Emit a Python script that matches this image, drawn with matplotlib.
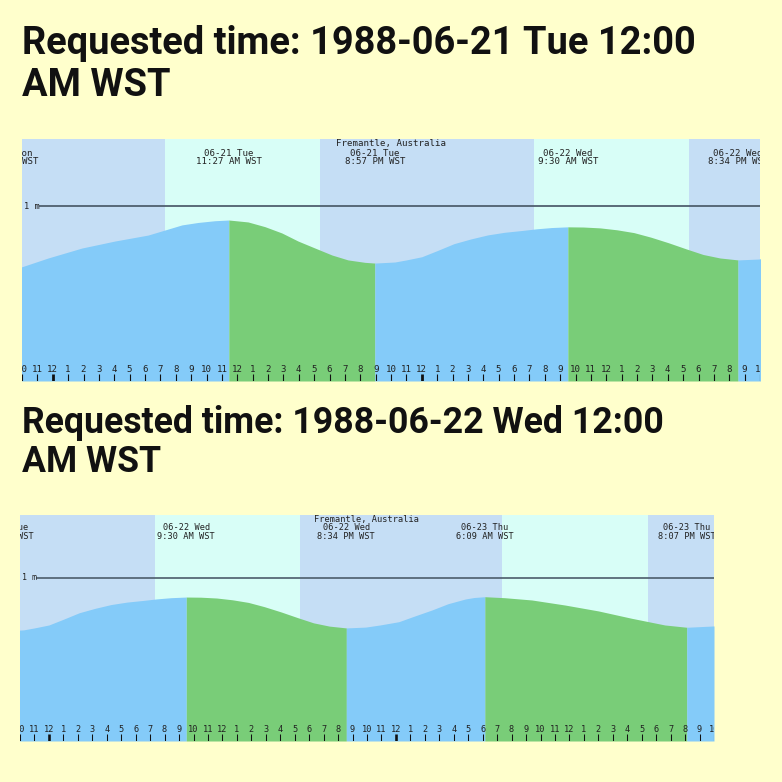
import numpy as np
import matplotlib.pyplot as plt

# hours counted from 1988-06-21 00:00 WST, heights in metres
tide_hours = [-2.92, -2.0, -0.3, 1.9, 4.05, 6.2, 7.3, 8.4, 9.45, 10.55, 11.45, 12.7, 13.8, 14.9,
              15.95, 17.05, 18.16, 19.2, 20.31, 20.95, 22.25, 23.0, 24.0, 25.0, 26.1, 27.2, 28.3,
              29.4, 30.5, 31.5, 32.45, 33.5, 34.5, 35.6, 36.7, 37.8, 38.9, 40.05, 41.2, 42.3,
              43.4, 44.57, 45.9, 46.9, 48.2, 49.3, 50.5, 51.6, 52.8, 53.4, 54.15, 55.5, 57.4,
              59.7, 62.0, 64.3, 66.6, 68.12, 70.0]
tide_m = [0.645, 0.653, 0.703, 0.760, 0.800, 0.834, 0.863, 0.892, 0.906, 0.916, 0.920, 0.909,
          0.882, 0.846, 0.800, 0.760, 0.720, 0.692, 0.678, 0.674, 0.680, 0.692, 0.710, 0.745,
          0.785, 0.812, 0.835, 0.850, 0.860, 0.870, 0.877, 0.881, 0.880, 0.875, 0.864, 0.848,
          0.822, 0.790, 0.755, 0.723, 0.703, 0.692, 0.697, 0.710, 0.730, 0.765, 0.802, 0.840,
          0.869, 0.878, 0.883, 0.877, 0.863, 0.832, 0.796, 0.751, 0.710, 0.696, 0.704]

event_hours = [-2.92, 11.45, 20.95, 33.5, 44.57, 54.15, 68.12]
event_kind = ["L", "H", "L", "H", "L", "H", "L"]
event_labels = ["06-20 Mon\n9:05 PM WST", "06-21 Tue\n11:27 AM WST", "06-21 Tue\n8:57 PM WST",
                "06-22 Wed\n9:30 AM WST", "06-22 Wed\n8:34 PM WST", "06-23 Thu\n6:09 AM WST",
                "06-23 Thu\n8:07 PM WST"]

sunrise = [7.33, 31.33, 55.33]
sunset = [17.4, 41.4, 65.42]

station = "Fremantle, Australia"
titles = ["Requested time: 1988-06-21 Tue 12:00\nAM WST", "Requested time: 1988-06-22 Wed 12:00\nAM WST"]
windows = [(-2, 46), (22, 70)]

PAGE = "#FFFFCC"
NIGHT = "#C5DEF5"
DAY = "#D8FEF7"
RISE = "#84CBF9"
FALL = "#79CD78"
MONO = "DejaVu Sans Mono"

fig = plt.figure(figsize=(7.82, 7.82), dpi=100)
fig.patch.set_facecolor(PAGE)
W = 782.0


def panel(rect, window, k):
    # rect in pixels (left, top, right, bottom), k = scale of this panel
    l, t, r, b = rect
    ax = fig.add_axes([l / W, 1 - b / W, (r - l) / W, (b - t) / W])
    ax.set_xlim(*window)
    ax.set_ylim(0, 1.383)
    ax.axis("off")
    ax.add_patch(plt.Rectangle((0, 0), 1, 1, transform=ax.transAxes, color=NIGHT, zorder=0))
    for sr, ss in zip(sunrise, sunset):
        ax.axvspan(sr, ss, color=DAY, lw=0, zorder=1)

    x = np.array(tide_hours)
    y = np.array(tide_m)
    for i, e in enumerate(event_hours):
        end = event_hours[i + 1] if i + 1 < len(event_hours) else x[-1]
        m = (x >= e) & (x <= end)
        c = FALL if event_kind[i] == "H" else RISE
        ax.fill_between(x[m], 0, y[m], color=c, lw=0, zorder=2)

    # 1 m level line
    trans = ax.get_yaxis_transform()
    ax.plot([18 / 738, 1], [1, 1], transform=trans, color="#4f5f6e", lw=1.3 * k, zorder=3)
    ax.text(2 / 738, 1, "1 m", transform=trans, fontsize=6.3 * k, family=MONO,
            va="center", ha="left", color="#222222", zorder=4)

    # station name and tide events along the top
    ax.text(0.5, 1 - 4.5 / 242, station, transform=ax.transAxes, fontsize=6.6 * k,
            family=MONO, ha="center", va="center", color="#222222", zorder=4)
    xt = ax.get_xaxis_transform()
    for e, lab in zip(event_hours, event_labels):
        ax.text(e, 1 - 18.5 / 242, lab, transform=xt, fontsize=6.6 * k, family=MONO,
                ha="center", va="center", linespacing=0.95, color="#222222",
                clip_on=True, zorder=4)

    # hour ticks
    for h in range(window[0], window[1] + 1):
        hh = h % 24
        lab = str(12 if hh % 12 == 0 else hh % 12)
        lw = 2.0 * k if hh == 0 else 0.8 * k
        ax.plot([h, h], [0, 7 / 242], transform=xt, color="#111111", lw=lw, zorder=4,
                solid_capstyle="butt", clip_on=True)
        ax.text(h, 12 / 242, lab, transform=xt, fontsize=6.6 * k, family=MONO,
                ha="center", va="center", color="#222222", clip_on=True, zorder=4)
    return ax


panel((22, 139, 760, 381), windows[0], 1.0)
panel((20, 515, 714, 741), windows[1], 0.94)

for txt, (y1, fs) in zip(titles, [(54, 27.4), (433, 25.7)]):
    line1, line2 = txt.split("\n")
    fig.text(22 / W, 1 - y1 / W, line1, fontsize=fs, family="Roboto",
             weight="bold", va="baseline", ha="left", color="#111111")
    fig.text(22 / W, 1 - (y1 + 42 * fs / 27.4) / W, line2, fontsize=fs,
             family="Roboto", weight="bold", va="baseline", ha="left", color="#111111")

fig.savefig("out.png", dpi=100, facecolor=PAGE)
